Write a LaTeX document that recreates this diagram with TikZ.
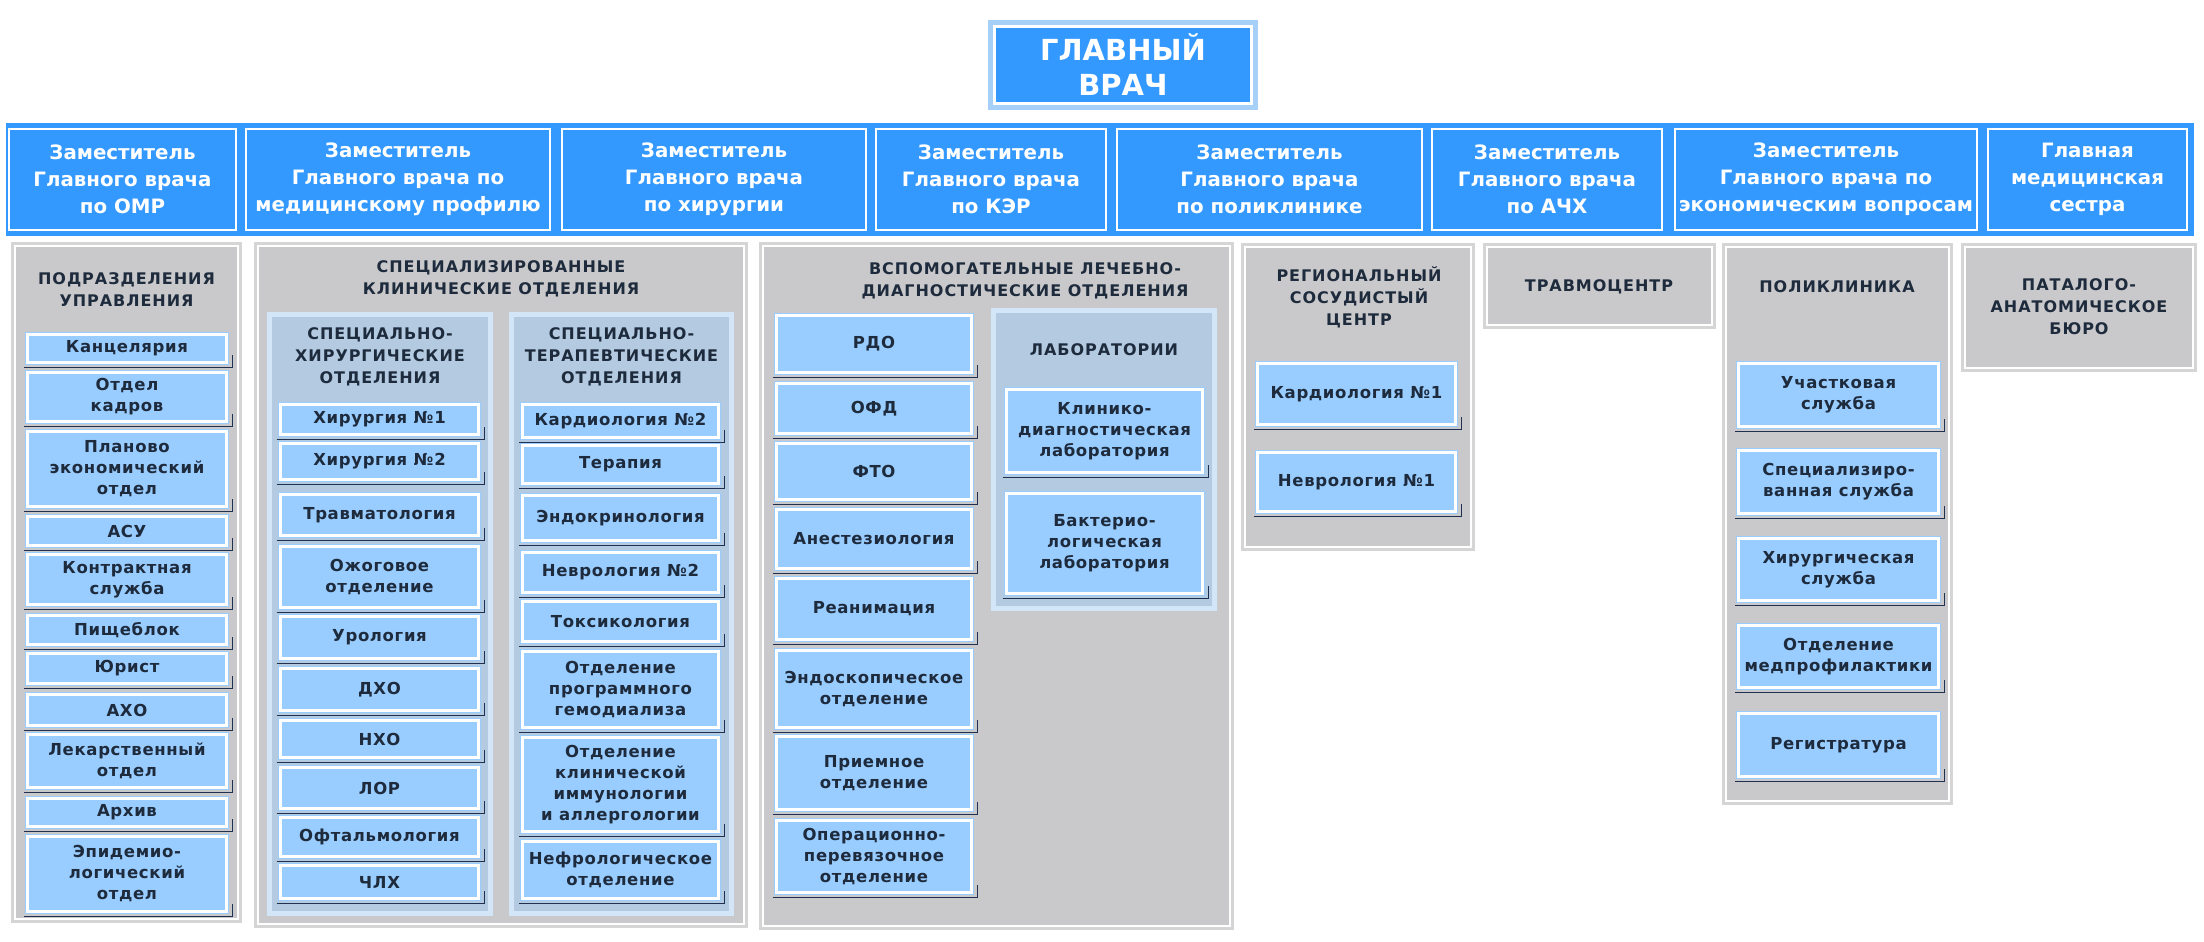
\documentclass[tikz,border=0pt]{standalone}
\usepackage{fontspec}
\setmainfont{DejaVu Sans}
\newfontfamily\itf[LetterSpace=4]{DejaVu Sans}
\newfontfamily\ttlf[LetterSpace=6]{DejaVu Sans}
\definecolor{bandblue}{HTML}{3399FF}
\definecolor{topouter}{HTML}{A6D0F7}
\definecolor{panelgray}{HTML}{C9C9CB}
\definecolor{panelouter}{HTML}{D5D5D5}
\definecolor{subfill}{HTML}{B3CAE1}
\definecolor{subborder}{HTML}{D3E6F8}
\definecolor{itemfill}{HTML}{99CCFF}
\definecolor{shadecol}{HTML}{1F3050}
\definecolor{txt}{HTML}{1E2B3D}
\tikzset{
  itembox/.style={fill=itemfill,inner sep=0pt,align=center,text=txt,font=\itf\bfseries\fontsize{16.5}{21}\selectfont},
  shadeline/.style={draw=shadecol,line width=1.4pt},
  panelbox/.style={fill=panelgray,draw=panelouter,line width=5pt,inner sep=0pt},
  subbox/.style={fill=subfill,draw=subborder,line width=5pt,inner sep=0pt},
  ttl/.style={align=center,text=txt,font=\ttlf\bfseries\fontsize{16}{22}\selectfont,inner sep=0pt},
  depbox/.style={fill=bandblue,draw=white,line width=2.5pt,inner sep=0pt,align=center,text=white,font=\bfseries\fontsize{19.8}{27}\selectfont},
}
\newcommand\Item[6]{%
  \node[itembox,minimum width={(#4-#2)*1pt},minimum height={(#5-#3)*1pt}] (#1) at ({(#2+#4)/2},{(#3+#5)/2}) {#6};
  \draw[white,line width=2.4pt] ([shift={(2.6pt,-2.6pt)}]#1.north west) rectangle ([shift={(-2.6pt,2.6pt)}]#1.south east);
  \draw[shadeline] ([shift={(-1pt,-2.5pt)}]#1.south west) -- ([shift={(3.5pt,-2.5pt)}]#1.south east) -- ([shift={(3.5pt,10pt)}]#1.south east);
}
\newcommand\Panel[5]{%
  \node[panelbox,minimum width={(#4-#2-5)*1pt},minimum height={(#5-#3-5)*1pt}] (#1) at ({(#2+#4)/2},{(#3+#5)/2}) {};
  \draw[white,line width=2.5pt] ([shift={(4pt,-4pt)}]#1.north west) rectangle ([shift={(-4pt,4pt)}]#1.south east);
}
\newcommand\Sub[5]{%
  \node[subbox,minimum width={(#4-#2-5)*1pt},minimum height={(#5-#3-5)*1pt}] (#1) at ({(#2+#4)/2},{(#3+#5)/2}) {};
}
\newcommand\Dep[6]{%
  \node[depbox,minimum width={(#4-#2)*1pt},minimum height={(#5-#3)*1pt}] (#1) at ({(#2+#4)/2},{(#3+#5)/2}) {#6};
}
\begin{document}
\begin{tikzpicture}[x=1pt,y=-1pt]
\useasboundingbox[fill=white] (0,0) rectangle (2204,942);
% top
\node[fill=topouter,minimum width=270pt,minimum height=90pt,inner sep=0pt] (topo) at (1123,65) {};
\node[fill=bandblue,draw=white,line width=3pt,minimum width=257pt,minimum height=77pt,inner sep=0pt,align=center,text=white,font=\bfseries\fontsize{29}{35}\selectfont] (top) at (1123,65) {ГЛАВНЫЙ\\ВРАЧ};
% band
\fill[bandblue] (6,123) rectangle (2194,236);
\Dep{d1}{9}{129}{236}{230}{Заместитель\\Главного врача\\по ОМР}
\Dep{d2}{246}{129}{550}{230}{Заместитель\\Главного врача по\\медицинскому профилю}
\Dep{d3}{562}{129}{866}{230}{Заместитель\\Главного врача\\по хирургии}
\Dep{d4}{876}{129}{1106}{230}{Заместитель\\Главного врача\\по КЭР}
\Dep{d5}{1117}{129}{1422}{230}{Заместитель\\Главного врача\\по поликлинике}
\Dep{d6}{1432}{129}{1662}{230}{Заместитель\\Главного врача\\по АЧХ}
\Dep{d7}{1675}{129}{1977}{230}{Заместитель\\Главного врача по\\экономическим вопросам}
\Dep{d8}{1988}{129}{2187}{230}{Главная\\медицинская\\сестра}
% Panel A
\Panel{pA}{11}{242}{242}{923}
\node[ttl] (tA) at (126.5,289.5) {ПОДРАЗДЕЛЕНИЯ\\УПРАВЛЕНИЯ};
\Item{a1}{25}{332}{229}{365}{Канцелярия}
\Item{a2}{25}{370}{229}{424}{Отдел\\кадров}
\Item{a3}{25}{429}{229}{509}{Планово\\экономический\\отдел}
\Item{a4}{25}{514}{229}{548}{АСУ}
\Item{a5}{25}{552}{229}{607}{Контрактная\\служба}
\Item{a6}{25}{613}{229}{647}{Пищеблок}
\Item{a7}{25}{651}{229}{686}{Юрист}
\Item{a8}{25}{692}{229}{728}{АХО}
\Item{a9}{25}{732}{229}{790}{Лекарственный\\отдел}
\Item{a10}{25}{796}{229}{829}{Архив}
\Item{a11}{25}{834}{229}{914}{Эпидемио-\\логический\\отдел}
% Panel B
\Panel{pB}{254}{242}{748}{928}
\node[ttl] (tB) at (501,278.5) {СПЕЦИАЛИЗИРОВАННЫЕ\\КЛИНИЧЕСКИЕ ОТДЕЛЕНИЯ};
\Sub{sB1}{267}{312}{493}{916}
\node[ttl] (tB1) at (380,357) {СПЕЦИАЛЬНО-\\ХИРУРГИЧЕСКИЕ\\ОТДЕЛЕНИЯ};
\Item{b1}{278}{402}{481}{437}{Хирургия №1}
\Item{b2}{278}{441}{481}{482}{Хирургия №2}
\Item{b3}{278}{492}{481}{538}{Травматология}
\Item{b4}{278}{544}{481}{610}{Ожоговое\\отделение}
\Item{b5}{278}{614}{481}{661}{Урология}
\Item{b6}{278}{666}{481}{713}{ДХО}
\Item{b7}{278}{718}{481}{760}{НХО}
\Item{b8}{278}{765}{481}{811}{ЛОР}
\Item{b9}{278}{815}{481}{859}{Офтальмология}
\Item{b10}{278}{863}{481}{901}{ЧЛХ}
\Sub{sB2}{509}{312}{734}{916}
\node[ttl] (tB2) at (621.5,357) {СПЕЦИАЛЬНО-\\ТЕРАПЕВТИЧЕСКИЕ\\ОТДЕЛЕНИЯ};
\Item{c1}{520}{402}{721}{440}{Кардиология №2}
\Item{c2}{520}{443}{721}{486}{Терапия}
\Item{c3}{520}{493}{721}{543}{Эндокринология}
\Item{c4}{520}{550}{721}{595}{Неврология №2}
\Item{c5}{520}{599}{721}{644}{Токсикология}
\Item{c6}{520}{649}{721}{730}{Отделение\\программного\\гемодиализа}
\Item{c7}{520}{735}{721}{834}{Отделение\\клинической\\иммунологии\\и аллергологии}
\Item{c8}{520}{839}{721}{901}{Нефрологическое\\отделение}
% Panel C
\Panel{pC}{759}{242}{1234}{930}
\node[ttl] (tC) at (1025,281) {ВСПОМОГАТЕЛЬНЫЕ ЛЕЧЕБНО-\\ДИАГНОСТИЧЕСКИЕ ОТДЕЛЕНИЯ};
\Item{e1}{774}{313}{974}{375}{РДО}
\Item{e2}{774}{381}{974}{436}{ОФД}
\Item{e3}{774}{441}{974}{502}{ФТО}
\Item{e4}{774}{507}{974}{571}{Анестезиология}
\Item{e5}{774}{576}{974}{642}{Реанимация}
\Item{e6}{774}{648}{974}{730}{Эндоскопическое\\отделение}
\Item{e7}{774}{734}{974}{812}{Приемное\\отделение}
\Item{e8}{774}{818}{974}{895}{Операционно-\\перевязочное\\отделение}
\Sub{sL}{991}{308}{1217}{611}
\node[ttl] (tL) at (1104,350) {ЛАБОРАТОРИИ};
\Item{l1}{1004}{387}{1205}{475}{Клинико-\\диагностическая\\лаборатория}
\Item{l2}{1004}{491}{1205}{596}{Бактерио-\\логическая\\лаборатория}
% Panel D
\Panel{pD}{1241}{243}{1475}{551}
\node[ttl] (tD) at (1359,297) {РЕГИОНАЛЬНЫЙ\\СОСУДИСТЫЙ\\ЦЕНТР};
\Item{f1}{1255}{361}{1458}{427}{Кардиология №1}
\Item{f2}{1255}{450}{1458}{514}{Неврология №1}
% Panel E
\Panel{pE}{1483}{243}{1716}{329}
\node[ttl] (tE) at (1599,287) {ТРАВМОЦЕНТР};
% Panel F
\Panel{pF}{1722}{243}{1953}{805}
\node[ttl] (tF) at (1837,287) {ПОЛИКЛИНИКА};
\Item{g1}{1736}{361}{1941}{429}{Участковая\\служба}
\Item{g2}{1736}{448}{1941}{516}{Специализиро-\\ванная служба}
\Item{g3}{1736}{536}{1941}{603}{Хирургическая\\служба}
\Item{g4}{1736}{623}{1941}{690}{Отделение\\медпрофилактики}
\Item{g5}{1736}{711}{1941}{779}{Регистратура}
% Panel G
\Panel{pG}{1961}{243}{2197}{372}
\node[ttl] (tG) at (2079,307) {ПАТАЛОГО-\\АНАТОМИЧЕСКОЕ\\БЮРО};
\end{tikzpicture}
\end{document}
